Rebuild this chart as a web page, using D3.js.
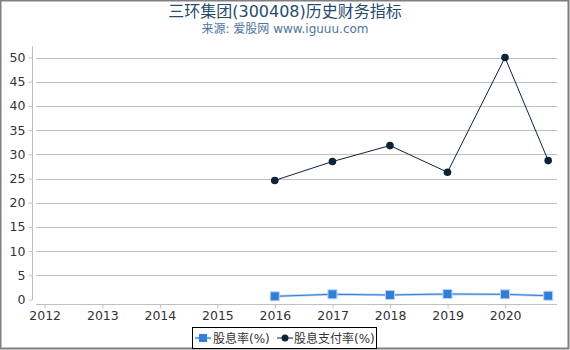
<!DOCTYPE html>
<html>
<head>
<meta charset="utf-8">
<script src="https://cdn.jsdelivr.net/npm/d3@7"></script>
<style>
  body { margin: 0; background: #fff; }
  text { font-family: "DejaVu Sans", "Noto Sans CJK SC", sans-serif; }
</style>
</head>
<body>
<script>
// report dates and the two series
const dates = ['2016-12-31', '2017-12-31', '2018-12-31', '2019-12-31', '2020-12-31', '2021-09-30'];
const yieldPct = [0.66, 1.07, 0.93, 1.14, 1.07, 0.78];
const payoutPct = [24.6, 28.5, 31.8, 26.3, 50.0, 28.7];
const yearTicks = [2012, 2013, 2014, 2015, 2016, 2017, 2018, 2019, 2020];
const yTicks = [0, 5, 10, 15, 20, 25, 30, 35, 40, 45, 50];
const seriesNames = ['股息率(%)', '股息支付率(%)'];

const width = 570, height = 350;
const parse = d3.timeParse('%Y-%m-%d');

// points sit one year back on the axis (year label = fiscal year)
const points = dates.map((d, i) => {
  const t = parse(d);
  return { x: d3.timeYear.offset(t, -1), yld: yieldPct[i], pay: payoutPct[i] };
});

const svg = d3.select('body').append('svg')
  .attr('width', width)
  .attr('height', height);

svg.append('rect')
  .attr('x', 0.5).attr('y', 0.5)
  .attr('width', width - 2).attr('height', height - 2)
  .attr('fill', '#fff')
  .attr('stroke', '#7f7f7f')
  .attr('stroke-width', 2);

// scales
const xScale = d3.scaleTime()
  .domain([new Date(2011, 10, 7), new Date(2020, 10, 25)])
  .range([36, 557]);

const yScale = d3.scaleLinear()
  .domain([0, 50])
  .range([299.5, 57.5]);

// grid lines
svg.append('g')
  .selectAll('line')
  .data(yTicks.filter(d => d > 0))
  .join('line')
  .attr('x1', 36).attr('x2', 557)
  .attr('y1', d => Math.round(yScale(d)) + 0.5)
  .attr('y2', d => Math.round(yScale(d)) + 0.5)
  .attr('stroke', '#c0c0c0');

// y axis
const yAxis = d3.axisLeft(yScale).tickValues(yTicks).tickSize(4).tickPadding(3);
const gy = svg.append('g')
  .attr('transform', 'translate(32.5,0)')
  .call(yAxis);
gy.select('.domain').attr('d', 'M0,46V300').attr('stroke', '#c0c0c0');
gy.selectAll('.tick line').attr('stroke', '#c0c0c0');
gy.selectAll('.tick text')
  .attr('fill', '#333')
  .style('font-size', '12.5px');

// x axis
const xAxis = d3.axisBottom(xScale)
  .tickValues(yearTicks.map(y => new Date(y, 0, 1)))
  .tickFormat(d3.timeFormat('%Y'))
  .tickSize(4).tickPadding(3);
const gx = svg.append('g')
  .attr('transform', 'translate(0,304.5)')
  .call(xAxis);
gx.select('.domain').attr('d', 'M36,0H557').attr('stroke', '#c0c0c0');
gx.selectAll('.tick line').attr('stroke', '#c0c0c0');
gx.selectAll('.tick text')
  .attr('fill', '#333')
  .style('font-size', '12.5px');

// dividend yield line (blue, with squares)
const lineYld = d3.line().x(d => xScale(d.x)).y(d => yScale(d.yld));
svg.append('path')
  .datum(points)
  .attr('d', lineYld)
  .attr('fill', 'none')
  .attr('stroke', '#b9d3f2')
  .attr('stroke-width', 2.5);
svg.append('path')
  .datum(points)
  .attr('d', lineYld)
  .attr('fill', 'none')
  .attr('stroke', '#2f7ed8')
  .attr('stroke-width', 1);
svg.append('g')
  .selectAll('rect')
  .data(points)
  .join('rect')
  .attr('x', d => xScale(d.x) - 4.5)
  .attr('y', d => yScale(d.yld) - 4.5)
  .attr('width', 9).attr('height', 9)
  .attr('fill', '#2f7ed8')
  .attr('stroke', '#b9d3f2')
  .attr('stroke-width', 1);

// payout ratio line (navy, with circles)
const linePay = d3.line().x(d => xScale(d.x)).y(d => yScale(d.pay));
svg.append('path')
  .datum(points)
  .attr('d', linePay)
  .attr('fill', 'none')
  .attr('stroke', '#0d233a')
  .attr('stroke-width', 1);
svg.append('g')
  .selectAll('circle')
  .data(points)
  .join('circle')
  .attr('cx', d => xScale(d.x))
  .attr('cy', d => yScale(d.pay))
  .attr('r', 3.8)
  .attr('fill', '#0d233a');

// title
svg.append('text')
  .attr('x', 285).attr('y', 17)
  .attr('text-anchor', 'middle')
  .attr('fill', '#274b6d')
  .style('font-size', '16px')
  .text('三环集团(300408)历史财务指标');

svg.append('text')
  .attr('x', 285).attr('y', 33)
  .attr('text-anchor', 'middle')
  .attr('fill', '#4d759e')
  .style('font-size', '12px')
  .text('来源: 爱股网 www.iguuu.com');

// legend
const legend = svg.append('g');
legend.append('rect')
  .attr('x', 192.5).attr('y', 327.5)
  .attr('width', 184).attr('height', 21)
  .attr('fill', '#fff')
  .attr('stroke', '#000');

const lg1 = legend.append('g').attr('transform', 'translate(195,338)');
lg1.append('line').attr('x1', 0).attr('x2', 16)
  .attr('stroke', '#b9d3f2').attr('stroke-width', 2.5);
lg1.append('line').attr('x1', 0).attr('x2', 16)
  .attr('stroke', '#2f7ed8').attr('stroke-width', 1);
lg1.append('rect').attr('x', 4).attr('y', -4).attr('width', 8).attr('height', 8)
  .attr('fill', '#2f7ed8');
lg1.append('text').attr('x', 18).attr('y', 4.5)
  .attr('fill', '#333').style('font-size', '12px')
  .text(seriesNames[0]);

const lg2 = legend.append('g').attr('transform', 'translate(277,338)');
lg2.append('line').attr('x1', 0).attr('x2', 16)
  .attr('stroke', '#0d233a').attr('stroke-width', 1);
lg2.append('circle').attr('cx', 8).attr('r', 3.5).attr('fill', '#0d233a');
lg2.append('text').attr('x', 17).attr('y', 4.5)
  .attr('fill', '#333').style('font-size', '12px')
  .text(seriesNames[1]);
</script>
</body>
</html>
